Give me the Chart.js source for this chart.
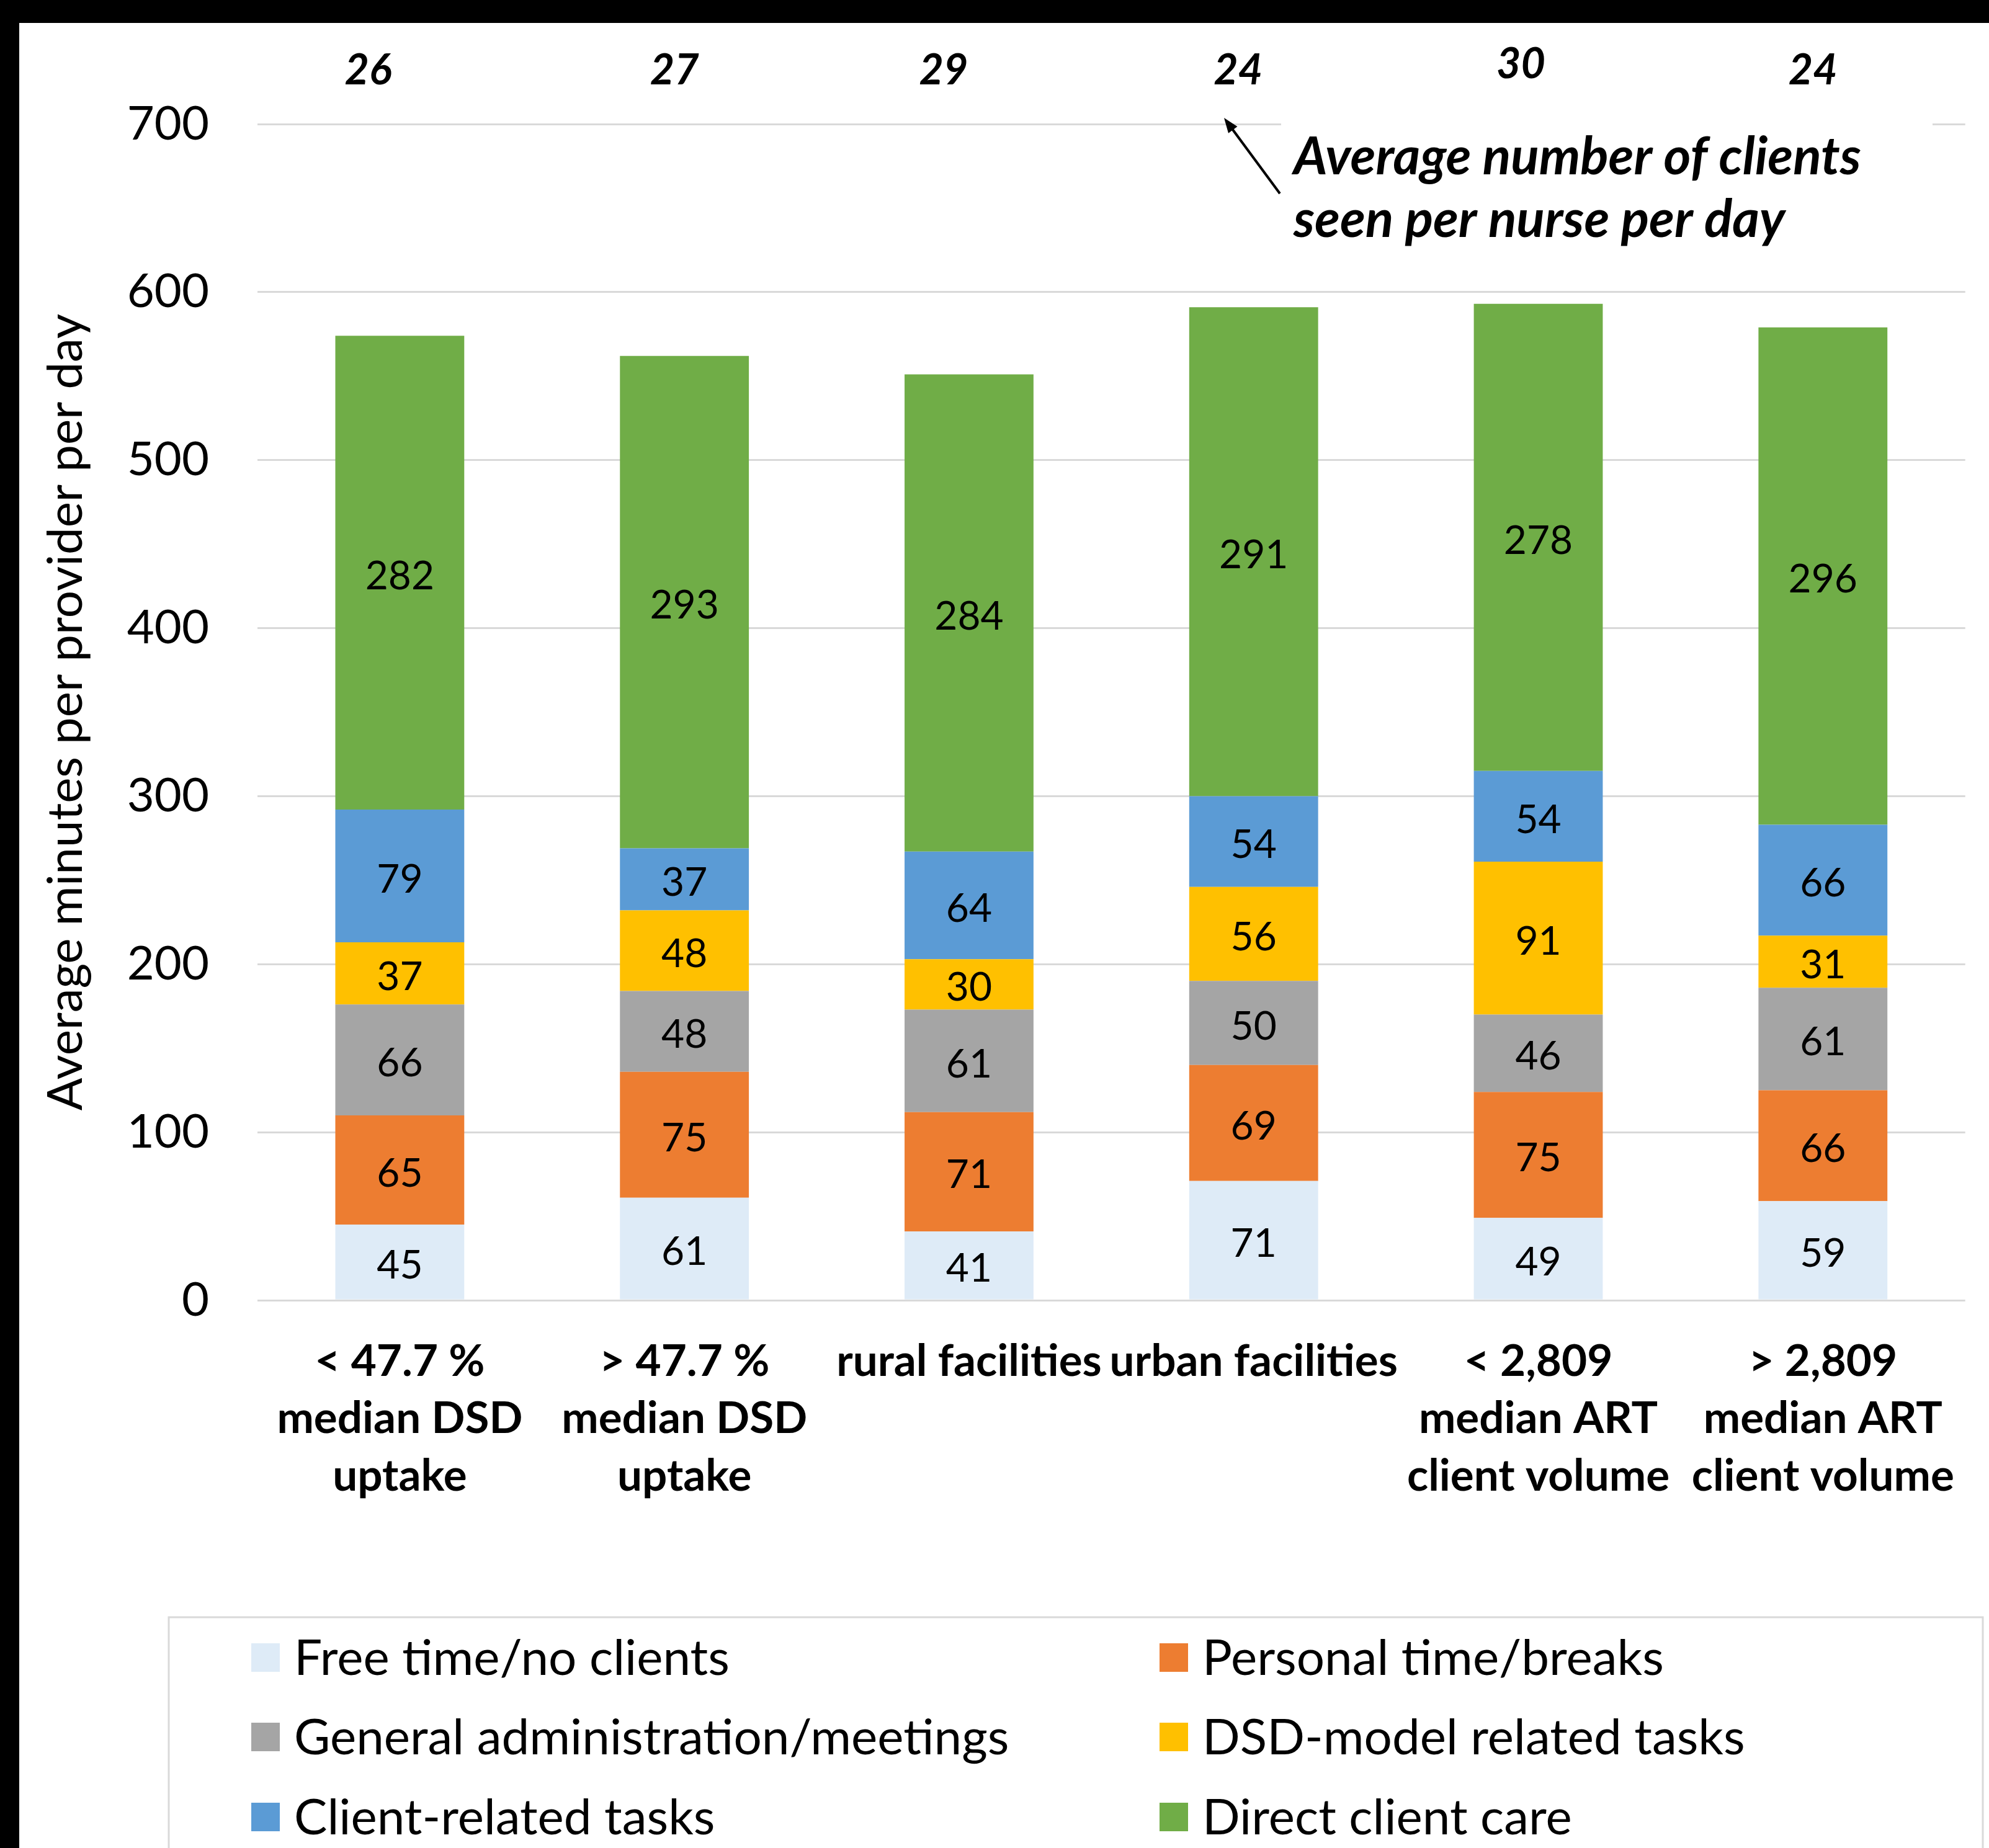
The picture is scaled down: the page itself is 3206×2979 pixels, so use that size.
<!DOCTYPE html>
<html>
<head>
<meta charset="utf-8">
<script src="https://cdn.jsdelivr.net/npm/chart.js@4.4.1/dist/chart.umd.min.js"></script>
<style>
  html, body { margin: 0; padding: 0; background: #000; }
  canvas { display: block; }
</style>
</head>
<body>
<canvas id="chart" width="3206" height="2979"></canvas>
<script>
// Facility groups on the x axis
const categories = [
  ['< 47.7 %', 'median DSD', 'uptake'],
  ['> 47.7 %', 'median DSD', 'uptake'],
  'rural facilities',
  'urban facilities',
  ['< 2,809', 'median ART', 'client volume'],
  ['> 2,809', 'median ART', 'client volume']
];

// Average minutes per provider per day, by activity
const freeTime      = [45, 61, 41, 71, 49, 59];
const personalTime  = [65, 75, 71, 69, 75, 66];
const generalAdmin  = [66, 48, 61, 50, 46, 61];
const dsdTasks      = [37, 48, 30, 56, 91, 31];
const clientTasks   = [79, 37, 64, 54, 54, 66];
const directCare    = [282, 293, 284, 291, 278, 296];

// Average number of clients seen per nurse per day
const clientsPerNurse = [26, 27, 29, 24, 30, 24];

const seriesNames = [
  'Free time/no clients',
  'Personal time/breaks',
  'General administration/meetings',
  'DSD-model related tasks',
  'Client-related tasks',
  'Direct client care'
];
const seriesColors = ['#DEEBF7', '#ED7D31', '#A5A5A5', '#FFC000', '#5B9BD5', '#70AD47'];
const seriesValues = [freeTime, personalTime, generalAdmin, dsdTasks, clientTasks, directCare];

const yMin = 0, yMax = 700, yStep = 100;

const FONT = 'Lato';

// White page with a black frame on the top and left edges
const framePlugin = {
  id: 'frame',
  beforeDraw(chart) {
    const { ctx, width, height } = chart;
    ctx.save();
    ctx.fillStyle = '#000';
    ctx.fillRect(0, 0, width, height);
    ctx.fillStyle = '#fff';
    ctx.fillRect(31, 37, width - 31, height - 37);
    ctx.restore();
  }
};

// Value written in the middle of every stacked segment
const segmentLabels = {
  id: 'segmentLabels',
  afterDatasetsDraw(chart) {
    const { ctx } = chart;
    ctx.save();
    ctx.font = `64px ${FONT}`;
    ctx.fillStyle = '#000';
    ctx.textAlign = 'center';
    ctx.textBaseline = 'middle';
    chart.data.datasets.forEach((ds, di) => {
      const meta = chart.getDatasetMeta(di);
      meta.data.forEach((bar, i) => {
        const y = (bar.y + bar.base) / 2;
        ctx.fillText(String(ds.data[i]), bar.x, y + 6);
      });
    });
    ctx.restore();
  }
};

// Clients-per-nurse figures above the bars and their explanatory note
const clientsNote = {
  id: 'clientsNote',
  afterDraw(chart) {
    const { ctx } = chart;
    const xs = chart.scales.x;
    const nudgeX = [-51, -16, -41, -25, -28, -16];
    const nudgeY = [0, 0, 0, 0, -10, 0];
    ctx.save();
    ctx.font = `italic bold 68px ${FONT}`;
    ctx.fillStyle = '#000';
    ctx.textAlign = 'center';
    ctx.textBaseline = 'middle';
    clientsPerNurse.forEach((v, i) => {
      ctx.fillText(String(v), xs.getPixelForValue(i) + nudgeX[i], 114 + nudgeY[i]);
    });

    // note box
    ctx.fillStyle = '#fff';
    ctx.fillRect(2065, 190, 1050, 220);

    // arrow pointing at the figure
    const tx = 1973, ty = 190, sx = 2063, sy = 312;
    const ang = Math.atan2(ty - sy, tx - sx);
    const head = 24, hw = 9;
    ctx.strokeStyle = '#000';
    ctx.lineWidth = 4;
    ctx.beginPath();
    ctx.moveTo(sx, sy);
    ctx.lineTo(tx - Math.cos(ang) * head * 0.8, ty - Math.sin(ang) * head * 0.8);
    ctx.stroke();
    ctx.fillStyle = '#000';
    ctx.beginPath();
    ctx.moveTo(tx, ty);
    ctx.lineTo(tx - Math.cos(ang) * head + Math.sin(ang) * hw, ty - Math.sin(ang) * head - Math.cos(ang) * hw);
    ctx.lineTo(tx - Math.cos(ang) * head - Math.sin(ang) * hw, ty - Math.sin(ang) * head + Math.cos(ang) * hw);
    ctx.closePath();
    ctx.fill();

    ctx.font = `italic bold 84px ${FONT}`;
    ctx.textAlign = 'left';
    ctx.textBaseline = 'alphabetic';
    ctx.fillText('Average number of clients', 2085, 281);
    ctx.fillText('seen per nurse per day', 2085, 382);
    ctx.restore();
  }
};

// Two-column legend in a framed box beneath the axis labels
const boxedLegend = {
  id: 'boxedLegend',
  afterDraw(chart) {
    const { ctx } = chart;
    ctx.save();
    ctx.strokeStyle = '#D9D9D9';
    ctx.lineWidth = 3;
    ctx.strokeRect(272, 2607, 2924, 500);
    const colX = [405, 1869];
    const rowY = [2672, 2800, 2929];
    const sw = 46;
    ctx.font = `80px ${FONT}`;
    ctx.textAlign = 'left';
    ctx.textBaseline = 'middle';
    chart.data.datasets.forEach((ds, i) => {
      const x = colX[i % 2];
      const y = rowY[Math.floor(i / 2)];
      ctx.fillStyle = ds.backgroundColor;
      ctx.fillRect(x, y - sw / 2, sw, sw);
      ctx.fillStyle = '#000';
      ctx.fillText(ds.label, x + 69, y + 2);
    });
    ctx.restore();
  }
};

function build() {
  const ctx = document.getElementById('chart').getContext('2d');
  new Chart(ctx, {
    type: 'bar',
    data: {
      labels: categories,
      datasets: seriesNames.map((name, i) => ({
        label: name,
        data: seriesValues[i],
        backgroundColor: seriesColors[i],
        borderWidth: 0,
        categoryPercentage: 1,
        barPercentage: 0.453
      }))
    },
    options: {
      responsive: false,
      animation: false,
      devicePixelRatio: 1,
      layout: { padding: { top: 200, right: 37, left: 40, bottom: 433 } },
      plugins: {
        legend: { display: false },
        tooltip: { enabled: false }
      },
      scales: {
        x: {
          stacked: true,
          grid: { display: false, drawTicks: false },
          border: { display: false },
          ticks: {
            autoSkip: false,
            maxRotation: 0,
            minRotation: 0,
            padding: 53,
            color: '#000',
            font: { family: FONT, size: 71, weight: 'bold', lineHeight: 1.3 }
          },
          afterFit(scale) { scale.height = 450; }
        },
        y: {
          stacked: true,
          min: yMin,
          max: yMax,
          grid: { color: '#D9D9D9', lineWidth: 3, drawTicks: false },
          border: { display: false },
          ticks: {
            stepSize: yStep,
            padding: 78,
            color: '#000',
            font: { family: FONT, size: 76 }
          },
          title: {
            display: true,
            text: 'Average minutes per provider per day',
            color: '#000',
            font: { family: FONT, size: 78, lineHeight: 1.2 },
            padding: { top: 20, bottom: 0 }
          },
          afterFit(scale) { scale.width = 375; }
        }
      }
    },
    plugins: [framePlugin, segmentLabels, clientsNote, boxedLegend]
  });
}

Promise.all([
  document.fonts.load(`64px ${FONT}`),
  document.fonts.load(`bold 72px ${FONT}`),
  document.fonts.load(`italic bold 72px ${FONT}`)
]).then(build, build);
</script>
</body>
</html>
